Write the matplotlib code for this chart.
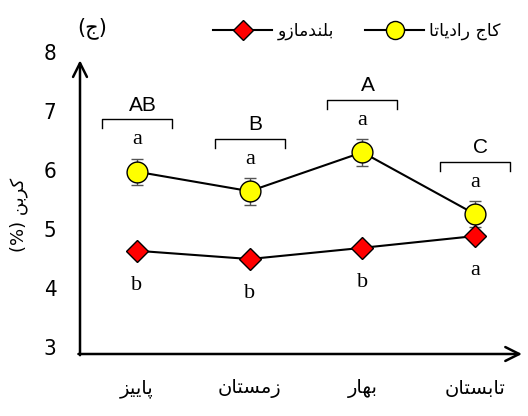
import numpy as np
import matplotlib
matplotlib.use("Agg")
import matplotlib.pyplot as plt
from matplotlib.lines import Line2D

seasons = ["پاییز", "زمستان", "بهار", "تابستان"]
radiata = [5.97, 5.64, 6.30, 5.25]
radiata_err = [0.22, 0.23, 0.23, 0.22]
mazu = [4.63, 4.49, 4.68, 4.88]
mazu_err = [0.08, 0.08, 0.08, 0.08]
radiata_letters = ["a", "a", "a", "a"]
mazu_letters = ["b", "b", "b", "a"]
season_groups = ["AB", "B", "A", "C"]

name_radiata = "کاج رادیاتا"
name_mazu = "بلندمازو"
y_title = "کربن"
panel = "ج"

# minimal contextual shaping for the Persian letters used here
# (isolated, final, initial, medial); two-form letters only join to the right
FORMS = {
    "ا": ("\uFE8D", "\uFE8E", None, None),
    "ب": ("\uFE8F", "\uFE90", "\uFE91", "\uFE92"),
    "پ": ("\uFB56", "\uFB57", "\uFB58", "\uFB59"),
    "ت": ("\uFE95", "\uFE96", "\uFE97", "\uFE98"),
    "ج": ("\uFE9D", "\uFE9E", "\uFE9F", "\uFEA0"),
    "د": ("\uFEA9", "\uFEAA", None, None),
    "ر": ("\uFEAD", "\uFEAE", None, None),
    "ز": ("\uFEAF", "\uFEB0", None, None),
    "س": ("\uFEB1", "\uFEB2", "\uFEB3", "\uFEB4"),
    "ک": ("\uFB8E", "\uFB8F", "\uFB90", "\uFB91"),
    "ل": ("\uFEDD", "\uFEDE", "\uFEDF", "\uFEE0"),
    "م": ("\uFEE1", "\uFEE2", "\uFEE3", "\uFEE4"),
    "ن": ("\uFEE5", "\uFEE6", "\uFEE7", "\uFEE8"),
    "ه": ("\uFEE9", "\uFEEA", "\uFEEB", "\uFEEC"),
    "و": ("\uFEED", "\uFEEE", None, None),
    "ی": ("\uFBFC", "\uFBFD", "\uFBFE", "\uFBFF"),
}


def joins_left(ch):
    return ch in FORMS and FORMS[ch][2] is not None


def fa(text):
    out = []
    for i, ch in enumerate(text):
        if ch not in FORMS:
            out.append(ch)
            continue
        prev = text[i - 1] if i > 0 else ""
        nxt = text[i + 1] if i < len(text) - 1 else ""
        from_right = joins_left(prev)
        to_left = joins_left(ch) and nxt in FORMS
        iso, fin, ini, med = FORMS[ch]
        if from_right and to_left:
            out.append(med)
        elif from_right:
            out.append(fin)
        elif to_left:
            out.append(ini)
        else:
            out.append(iso)
    return "".join(reversed(out))


plt.rcParams["font.family"] = ["DejaVu Sans"]

fig = plt.figure(figsize=(5.28, 4.16), dpi=100)
ax = fig.add_axes([80 / 528, 62 / 416, 442 / 528, 302 / 416])

x = np.arange(len(seasons))
ax.errorbar(x, radiata, yerr=radiata_err, color="black", lw=1.5, marker="o",
            ms=15, mfc="#ffff00", mec="black", mew=1.0, ecolor="#555555",
            elinewidth=1.0, capsize=4, zorder=3)
ax.errorbar(x, mazu, yerr=mazu_err, color="black", lw=1.5, marker="D",
            ms=11.5, mfc="#ff0000", mec="black", mew=1.0, ecolor="#555555",
            elinewidth=1.0, capsize=3, zorder=3)

ax.set_xlim(-0.506, 3.416)
ax.set_ylim(2.88, 8.0)

# axes drawn as arrows
for s in ax.spines.values():
    s.set_visible(False)
ax.annotate("", xy=(3.416, 2.88), xytext=(-0.52, 2.88),
            arrowprops=dict(arrowstyle="->", lw=1.8, mutation_scale=25,
                            shrinkA=0, shrinkB=0), annotation_clip=False)
ax.annotate("", xy=(-0.506, 7.86), xytext=(-0.506, 2.86),
            arrowprops=dict(arrowstyle="->", lw=1.8, mutation_scale=25,
                            shrinkA=0, shrinkB=0), annotation_clip=False)

ax.set_yticks([3, 4, 5, 6, 7, 8])
ax.set_xticks(x)
ax.set_xticklabels([fa(s) for s in seasons], fontsize=14)
ax.tick_params(axis="x", length=0, pad=18)
ax.tick_params(axis="y", length=0, pad=17)
for lab in ax.get_yticklabels():
    lab.set_fontstretch("condensed")
    lab.set_fontsize(16)

ax.set_ylabel("(%) " + fa(y_title), fontsize=13)
ax.yaxis.set_label_coords(-52 / 442, 0.46)

# significance letters
for xi, v, t in zip(x, radiata, radiata_letters):
    ax.annotate(t, (xi, v), xytext=(0, 23), textcoords="offset points",
                ha="center", va="center", fontsize=16, family="Liberation Serif")
for xi, v, t in zip(x, mazu, mazu_letters):
    ax.annotate(t, (xi, v), xytext=(0, -25), textcoords="offset points",
                ha="center", va="center", fontsize=16, family="Liberation Serif")

# season group brackets
half = 0.31
for xi, v, t in zip(x, radiata, season_groups):
    top = v + 0.89
    ax.plot([xi - half, xi - half, xi + half, xi + half],
            [top - 0.15, top, top, top - 0.15], color="black", lw=1.0)
    ax.text(xi + 0.05, top + 0.08, t, ha="center", va="bottom", fontsize=15,
            family="Liberation Sans")

fig.text(92 / 528, 1 - 28 / 416, "(" + fa(panel) + ")", ha="center",
         va="center", fontsize=15)

handles = [
    Line2D([], [], color="black", lw=1.5, marker="D", ms=10, mfc="#ff0000",
           mec="black"),
    Line2D([], [], color="black", lw=1.5, marker="o", ms=13, mfc="#ffff00",
           mec="black"),
]
fig.legend(handles, [fa(name_mazu), fa(name_radiata)], ncol=2, frameon=False,
           loc="center", bbox_to_anchor=(357 / 528, 1 - 31 / 416),
           fontsize=12.5, handlelength=3.4, columnspacing=1.8, handletextpad=0.3)

fig.savefig("out.png", dpi=100)
